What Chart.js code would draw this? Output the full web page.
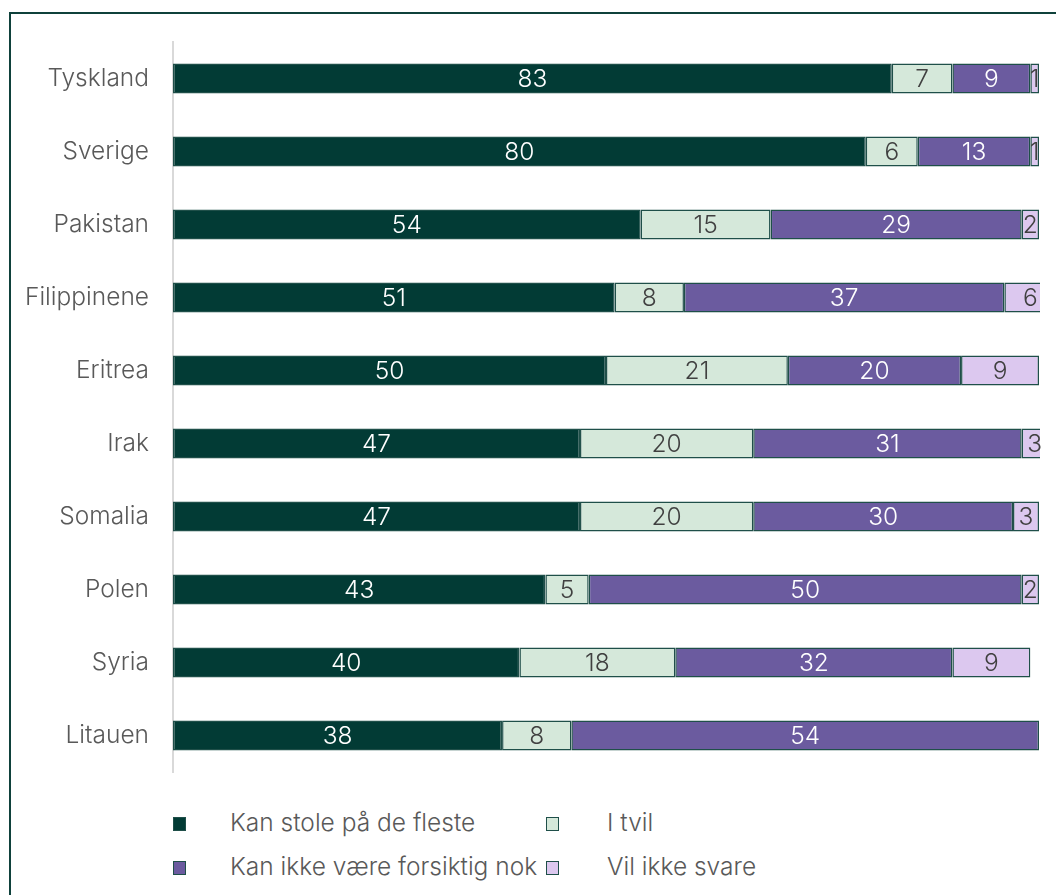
<!DOCTYPE html>
<html>
<head>
<meta charset="utf-8">
<script src="https://cdn.jsdelivr.net/npm/chart.js@4.4.1/dist/chart.umd.min.js"></script>
<style>
  html, body { margin: 0; padding: 0; background: #fff; overflow: hidden; }
  body { width: 1056px; height: 895px; position: relative; font-family: Inter, "Noto Sans", sans-serif; }
  #frame { position: absolute; left: 9px; top: 12px; width: 1100px; height: 950px;
           border-left: 2px solid #0f413b; border-top: 2px solid #0f413b; }
  #wrap { position: absolute; left: 0; top: 0; width: 1056px; height: 800px; }
  .leg { position: absolute; font-size: 24.5px; font-weight: 300; color: #595959; line-height: 28px; white-space: nowrap; }
  .box { position: absolute; width: 11px; height: 12px; border: 1px solid #1f4f49; }
</style>
</head>
<body>
<div id="frame"></div>
<div id="wrap"><canvas id="trustChart"></canvas></div>
<div id="legend"></div>
<script>
// Kategorier og verdier (prosent)
const countries = ['Tyskland', 'Sverige', 'Pakistan', 'Filippinene', 'Eritrea', 'Irak', 'Somalia', 'Polen', 'Syria', 'Litauen'];
const stoleValues = [83, 80, 54, 51, 50, 47, 47, 43, 40, 38];
const tvilValues = [7, 6, 15, 8, 21, 20, 20, 5, 18, 8];
const forsiktigValues = [9, 13, 29, 37, 20, 31, 30, 50, 32, 54];
const svareValues = [1, 1, 2, 6, 9, 3, 3, 2, 9, 0];

const seriesNames = ['Kan stole på de fleste', 'I tvil', 'Kan ikke være forsiktig nok', 'Vil ikke svare'];
const seriesColors = ['#023b35', '#d5e8da', '#6b5b9f', '#dcc8ef'];
const labelColors = ['#ffffff', '#404040', '#ffffff', '#404040'];

// Tegner verdiene midt i hvert segment
const segmentLabels = {
    id: 'segmentLabels',
    afterDatasetsDraw(chart) {
        const ctx = chart.ctx;
        ctx.save();
        ctx.font = '300 24.5px Inter, "Noto Sans", sans-serif';
        ctx.textAlign = 'center';
        ctx.textBaseline = 'middle';
        chart.data.datasets.forEach((ds, i) => {
            const meta = chart.getDatasetMeta(i);
            meta.data.forEach((bar, j) => {
                const v = ds.data[j];
                if (!v) return;
                ctx.fillStyle = labelColors[i];
                ctx.fillText(String(v), (bar.x + bar.base) / 2, bar.y + 1);
            });
        });
        ctx.restore();
    }
};

function initializeChart() {
    const ctx = document.getElementById('trustChart').getContext('2d');
    const datasets = [stoleValues, tvilValues, forsiktigValues, svareValues].map((vals, i) => ({
        label: seriesNames[i],
        data: vals,
        backgroundColor: seriesColors[i],
        borderColor: '#1f4f49',
        borderWidth: 1.5,
        borderSkipped: false,
        categoryPercentage: 0.82,
        barPercentage: 0.5,
        clip: 1
    }));
    new Chart(ctx, {
        type: 'bar',
        data: { labels: countries, datasets: datasets },
        plugins: [segmentLabels],
        options: {
            indexAxis: 'y',
            responsive: true,
            maintainAspectRatio: false,
            animation: false,
            layout: { padding: { left: 0, right: 17, top: 42, bottom: 28 } },
            plugins: { legend: { display: false }, tooltip: { enabled: false } },
            scales: {
                x: { stacked: true, min: 0, max: 100, display: false },
                y: {
                    stacked: true,
                    afterFit(scale) {
                        scale.width = 173;
                        scale.paddingTop = 0;
                        scale.paddingBottom = 0;
                    },
                    grid: { display: false, drawTicks: false },
                    border: { display: true, color: '#d9d9d9', width: 2 },
                    ticks: {
                        color: '#595959',
                        padding: 24,
                        font: { family: 'Inter, "Noto Sans", sans-serif', size: 24.5, weight: 300 }
                    }
                }
            }
        }
    });
}

// Legende i to kolonner under diagrammet
function buildLegend() {
    const spots = [[173, 823], [546, 823], [173, 867], [546, 867]];
    const legend = document.getElementById('legend');
    seriesNames.forEach((name, i) => {
        const box = document.createElement('div');
        box.className = 'box';
        box.style.left = spots[i][0] + 'px';
        box.style.top = (spots[i][1] - 6) + 'px';
        box.style.background = seriesColors[i];
        legend.appendChild(box);
        const txt = document.createElement('div');
        txt.className = 'leg';
        txt.textContent = name;
        txt.style.left = (spots[i][0] + (i % 2 ? 61 : 57)) + 'px';
        txt.style.top = (spots[i][1] - 15) + 'px';
        legend.appendChild(txt);
    });
}

window.onload = function() {
    initializeChart();
    buildLegend();
};
</script>
</body>
</html>
